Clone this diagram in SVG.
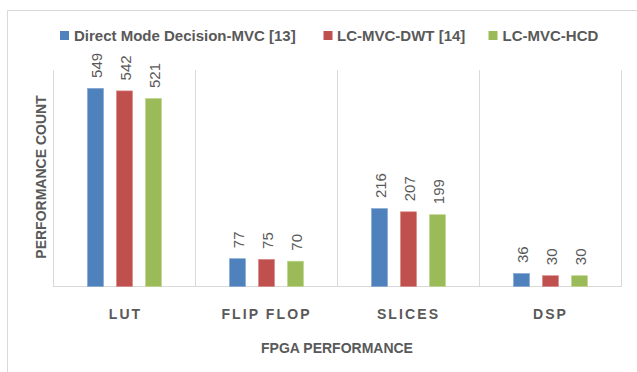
<svg xmlns="http://www.w3.org/2000/svg" width="637" height="372" viewBox="0 0 637 372">
<style>
.grid{stroke:#d9d9d9;stroke-width:1;fill:none}
.frame{stroke:#d9d9d9;stroke-width:1;fill:none}
.b{fill:#4F81BD;stroke:#7fa3d0;stroke-width:0.6}
.r{fill:#C0504D;stroke:#d88583;stroke-width:0.6}
.g{fill:#9BBB59;stroke:#bcd48c;stroke-width:0.6}
.val{font-family:"Liberation Sans",Arial,sans-serif;font-size:15px;fill:#595959}
.leg{font-family:"Liberation Sans",Arial,sans-serif;font-size:15px;font-weight:bold;fill:#595959}
.cat{font-family:"Liberation Sans",Arial,sans-serif;font-size:14px;font-weight:bold;fill:#595959;letter-spacing:2.1px;text-anchor:middle}
.ttl{font-family:"Liberation Sans",Arial,sans-serif;font-size:14px;font-weight:bold;fill:#595959;text-anchor:middle}
</style>
<rect x="0" y="0" width="637" height="372" fill="#ffffff"/>
<path class="frame" d="M7.5,380 V10.5 H650"/>
<g id="legend">
<rect x="60" y="31" width="9" height="9" fill="#4F81BD"/>
<text class="leg" x="74" y="40.5">Direct Mode Decision-MVC [13]</text>
<rect x="323.5" y="31" width="9" height="9" fill="#C0504D"/>
<text class="leg" x="337" y="40.5">LC-MVC-DWT [14]</text>
<rect x="488.5" y="31" width="9" height="9" fill="#9BBB59"/>
<text class="leg" x="502.5" y="40.5">LC-MVC-HCD</text>
</g>
<g id="gridlines">
<path class="grid" d="M53.5,70 V286.5 M195.5,70 V286.5 M337.5,70 V286.5 M479.5,70 V286.5 M621.5,70 V286.5 M53,286.5 H622"/>
</g>
<g id="lut">
<rect class="b" x="87.5" y="88.4" width="16" height="198.1"/>
<rect class="r" x="116.5" y="90.9" width="16" height="195.6"/>
<rect class="g" x="145.5" y="98.5" width="16" height="188"/>
<text class="val" transform="translate(102,77.9) rotate(-90)">549</text>
<text class="val" transform="translate(131,80.4) rotate(-90)">542</text>
<text class="val" transform="translate(160,88) rotate(-90)">521</text>
<text class="cat" x="125.5" y="319">LUT</text>
</g>
<g id="flipflop">
<rect class="b" x="229.5" y="258.7" width="16" height="27.8"/>
<rect class="r" x="258.5" y="259.4" width="16" height="27.1"/>
<rect class="g" x="287.5" y="261.2" width="16" height="25.3"/>
<text class="val" transform="translate(244,248.2) rotate(-90)">77</text>
<text class="val" transform="translate(273,248.9) rotate(-90)">75</text>
<text class="val" transform="translate(302,250.7) rotate(-90)">70</text>
<text class="cat" x="266.5" y="319">FLIP FLOP</text>
</g>
<g id="slices">
<rect class="b" x="371.5" y="208.6" width="16" height="77.9"/>
<rect class="r" x="400.5" y="211.8" width="16" height="74.7"/>
<rect class="g" x="429.5" y="214.7" width="16" height="71.8"/>
<text class="val" transform="translate(386,198.1) rotate(-90)">216</text>
<text class="val" transform="translate(415,201.3) rotate(-90)">207</text>
<text class="val" transform="translate(444,204.2) rotate(-90)">199</text>
<text class="cat" x="408.5" y="319">SLICES</text>
</g>
<g id="dsp">
<rect class="b" x="513.5" y="273.5" width="16" height="13"/>
<rect class="r" x="542.5" y="275.7" width="16" height="10.8"/>
<rect class="g" x="571.5" y="275.7" width="16" height="10.8"/>
<text class="val" transform="translate(528,263) rotate(-90)">36</text>
<text class="val" transform="translate(557,265.2) rotate(-90)">30</text>
<text class="val" transform="translate(586,265.2) rotate(-90)">30</text>
<text class="cat" x="550.5" y="319">DSP</text>
</g>
<g id="axis-titles">
<text class="ttl" x="337" y="352.5">FPGA PERFORMANCE</text>
<text class="ttl" transform="translate(46,177) rotate(-90)">PERFORMANCE COUNT</text>
</g>
</svg>
